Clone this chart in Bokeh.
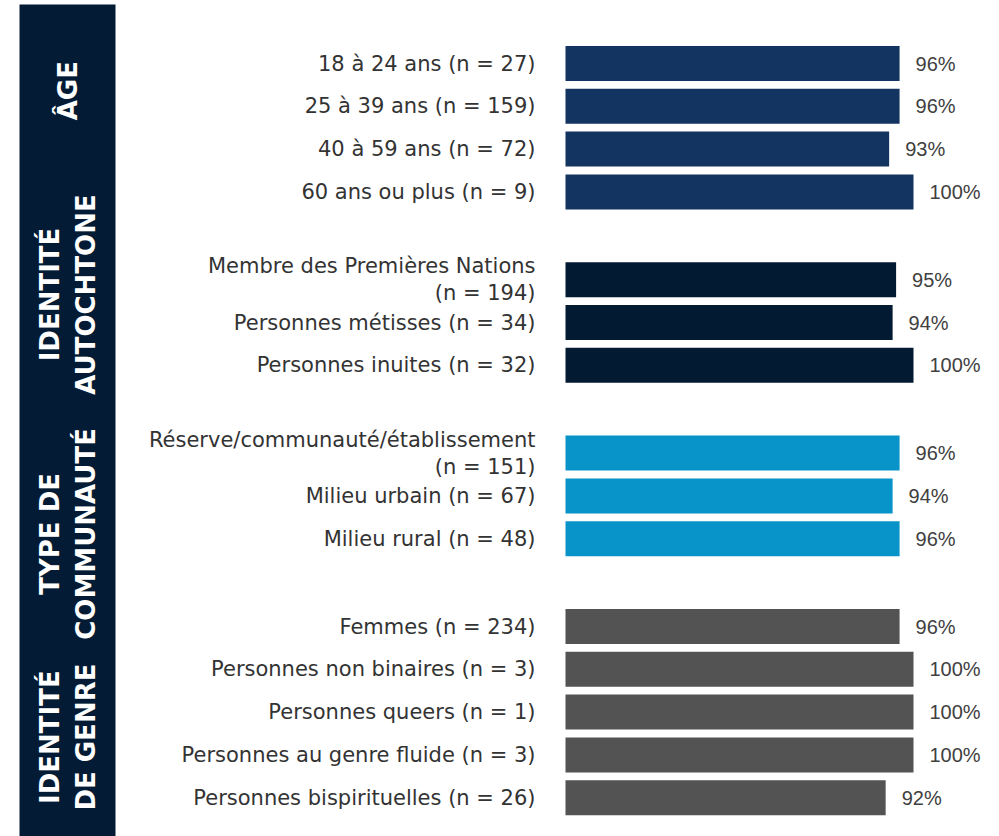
from bokeh.plotting import figure
from bokeh.models import Range1d, BoxAnnotation, ColumnDataSource
from bokeh.core.properties import value
from bokeh.embed import file_html
from bokeh.resources import INLINE
import math

# ---------------- data ----------------
groups = ["ÂGE", "IDENTITÉ\nAUTOCHTONE", "TYPE DE\nCOMMUNAUTÉ", "IDENTITÉ\nDE GENRE"]
age_labels = ["18 à 24 ans (n = 27)", "25 à 39 ans (n = 159)", "40 à 59 ans (n = 72)", "60 ans ou plus (n = 9)"]
age_values = [96, 96, 93, 100]
auto_labels = ["Membre des Premières Nations\n(n = 194)", "Personnes métisses (n = 34)", "Personnes inuites (n = 32)"]
auto_values = [95, 94, 100]
comm_labels = ["Réserve/communauté/établissement\n(n = 151)", "Milieu urbain (n = 67)", "Milieu rural (n = 48)"]
comm_values = [96, 94, 96]
genre_labels = ["Femmes (n = 234)", "Personnes non binaires (n = 3)", "Personnes queers (n = 1)",
                "Personnes au genre fluide (n = 3)", "Personnes bispirituelles (n = 26)"]
genre_values = [96, 100, 100, 100, 92]

# ---------------- style / layout ----------------
group_colors = ["#133461", "#031a33", "#0894c9", "#535353"]
sidebar_color = "#031b34"
W, H = 999, 836
PX_PER_PCT = 3.48
BAR_X0 = 565          # px where 0% sits
FIRST_Y = 63          # px of first bar centre
ROW = 42.8
GAP = 45
BAR_H = 35
group_label_shift = [-37, -28, 38, 25]

x_start = -BAR_X0 / PX_PER_PCT
x_end = x_start + W / PX_PER_PCT

p = figure(width=W, height=H, output_backend="svg", toolbar_location=None,
           x_range=Range1d(x_start, x_end), y_range=Range1d(H, 0),
           min_border=0, outline_line_color=None)
p.axis.visible = False
p.grid.visible = False
p.background_fill_color = "white"
p.border_fill_color = "white"

# sidebar
p.add_layout(BoxAnnotation(left=x_start + 19 / PX_PER_PCT, right=x_start + 115 / PX_PER_PCT, top=4,
                           fill_color=sidebar_color, fill_alpha=1, line_alpha=0, level="underlay"))

all_groups = [(age_labels, age_values), (auto_labels, auto_values),
              (comm_labels, comm_values), (genre_labels, genre_values)]
idx = 0
ys, vals, labs, cols = [], [], [], []
gy, gl = [], []
for g, (labels, values) in enumerate(all_groups):
    y_here = []
    for lab, v in zip(labels, values):
        y = FIRST_Y + idx * ROW + g * GAP
        ys.append(y); vals.append(v); labs.append(lab); cols.append(group_colors[g])
        y_here.append(y)
        idx += 1
    gy.append((y_here[0] + y_here[-1]) / 2 + group_label_shift[g])
    gl.append(groups[g])

src = ColumnDataSource(dict(y=ys, v=vals, lab=labs, col=cols, vl=[f"{v}%" for v in vals]))
p.hbar(y="y", left=0, right="v", height=BAR_H, fill_color="col", line_color=None, source=src)
p.text(x="v", y="y", text="vl", x_offset=16, text_baseline="middle", text_align="left",
       text_font=value("Liberation Sans"), text_font_size="20px", text_color="#404040", source=src)
p.text(x=0, y="y", text="lab", x_offset=-30, text_baseline="middle", text_align="right",
       text_font=value("DejaVu Sans"), text_font_size="21px", text_color="#333333",
       text_line_height=1.12, source=src)

gsrc = ColumnDataSource(dict(x=[x_start + 67 / PX_PER_PCT] * len(gy), y=gy, t=gl))
p.text(x="x", y="y", text="t", angle=math.pi / 2, text_align="center", text_baseline="middle",
       text_font=value("DejaVu Sans"), text_font_style="bold", text_font_size="26px",
       text_color="white", text_line_height=1.2, source=gsrc)

open("out.html", "w").write(file_html(p, INLINE))
